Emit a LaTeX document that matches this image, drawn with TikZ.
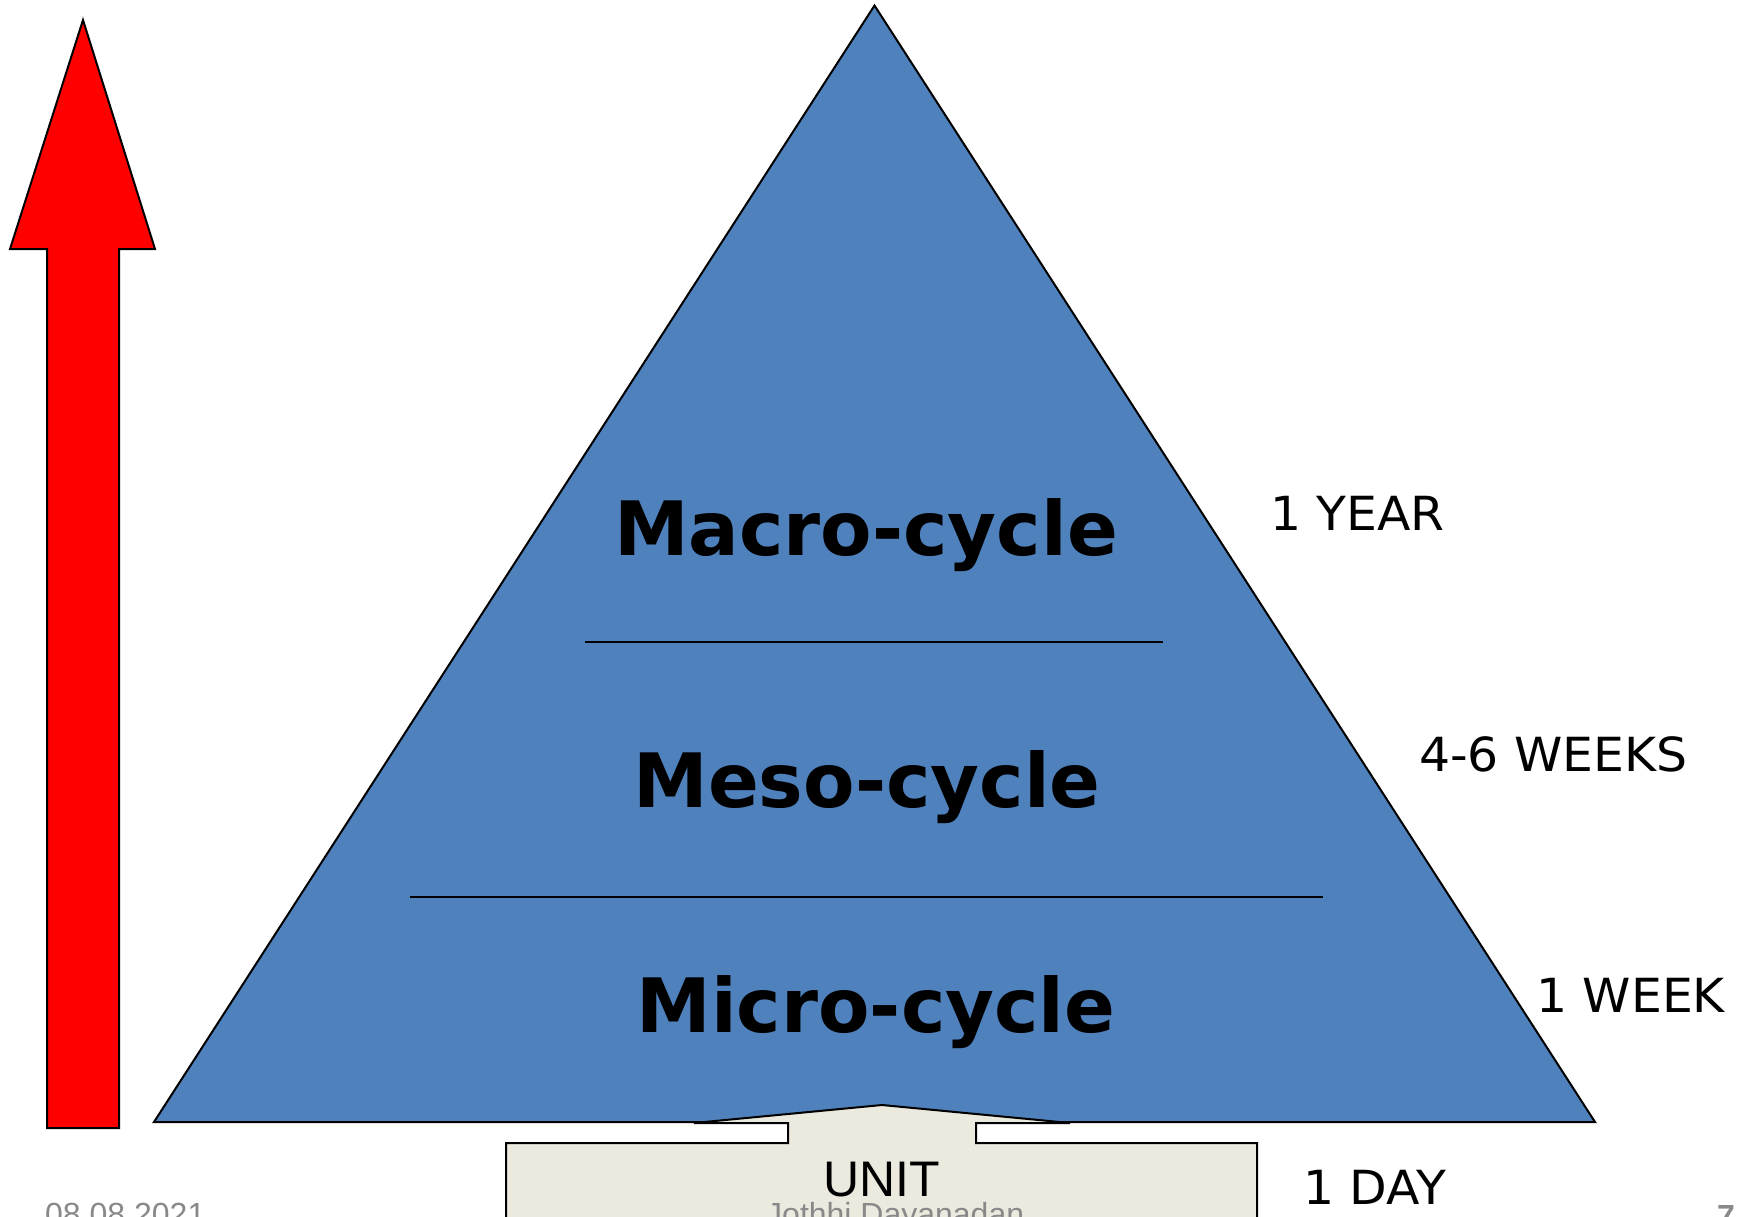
\documentclass[tikz,border=0pt]{standalone}
\usepackage{fontspec}
\setmainfont{DejaVu Sans}
\newfontfamily\arialfont{Liberation Sans}
\newfontfamily\widesans[FakeStretch=1.04]{DejaVu Sans}
\definecolor{pyrblue}{RGB}{79,129,189}
\definecolor{unitbeige}{RGB}{236,233,222}
\definecolor{footgray}{RGB}{137,137,137}
\begin{document}
\begin{tikzpicture}[x=1pt,y=-1pt,
  cyclelabel/.style={font=\fontsize{75}{80}\selectfont\bfseries, anchor=base, inner sep=0pt},
  durlabel/.style={font=\widesans\fontsize{47}{50}\selectfont, anchor=base west, inner sep=0pt},
  footlabel/.style={font=\arialfont\fontsize{32}{34}\selectfont, text=footgray, anchor=base west, inner sep=0pt},
  divider/.style={draw=black, line width=2pt},
  outline/.style={draw=black, line width=2pt, line join=miter}]
\path[use as bounding box] (0,0) rectangle (1740,1217);
\clip (0,0) rectangle (1740,1217);
\fill[white] (0,0) rectangle (1740,1217);
% red arrow
\draw[outline, fill=red] (83,20) -- (155,249) -- (119,249) -- (119,1128) -- (47,1128) -- (47,249) -- (10,249) -- cycle;
% pyramid
\coordinate (apex) at (874.5,5.5);
\coordinate (bl) at (154,1122);
\coordinate (br) at (1595,1122);
\draw[outline, fill=pyrblue] (apex) -- (br) -- (bl) -- cycle;
\coordinate (d1l) at (585,641.5);
\coordinate (d1r) at (1163,641.5);
\coordinate (d2l) at (409.5,896.5);
\coordinate (d2r) at (1323,896.5);
\draw[divider] (d1l) -- (d1r);
\draw[divider] (d2l) -- (d2r);
\node[cyclelabel] (macro) at (866,555) {Macro-cycle};
\node[cyclelabel] (meso) at (867,807) {Meso-cycle};
\node[cyclelabel] (micro) at (876,1032) {Micro-cycle};
% durations
\node[durlabel] (year) at (1270,530) {1 YEAR};
\node[durlabel] (weeks) at (1419,771) {4-6 WEEKS};
\node[durlabel] (week) at (1536,1012) {1 WEEK};
\node[durlabel] (day) at (1303,1204) {1 DAY};
% unit callout
\draw[draw=black, line width=2pt, fill=unitbeige, line join=miter]
  (506,1260) -- (506,1143) -- (788,1143) -- (788,1123) -- (694,1123) -- (882,1105)
  -- (1070,1123) -- (976,1123) -- (976,1143) -- (1257,1143) -- (1257,1260) -- cycle;
\node[font=\arialfont\fontsize{50}{54}\selectfont, anchor=base, inner sep=0pt] (unit) at (882,1196) {UNIT};
% footer
\node[footlabel] (date) at (45,1225) {08.08.2021};
\node[footlabel] (author) at (766,1225) {Jothhi Dayanadan};
\node[footlabel, font=\arialfont\bfseries\fontsize{32}{34}\selectfont] (page) at (1717,1227) {7};
\end{tikzpicture}
\end{document}
